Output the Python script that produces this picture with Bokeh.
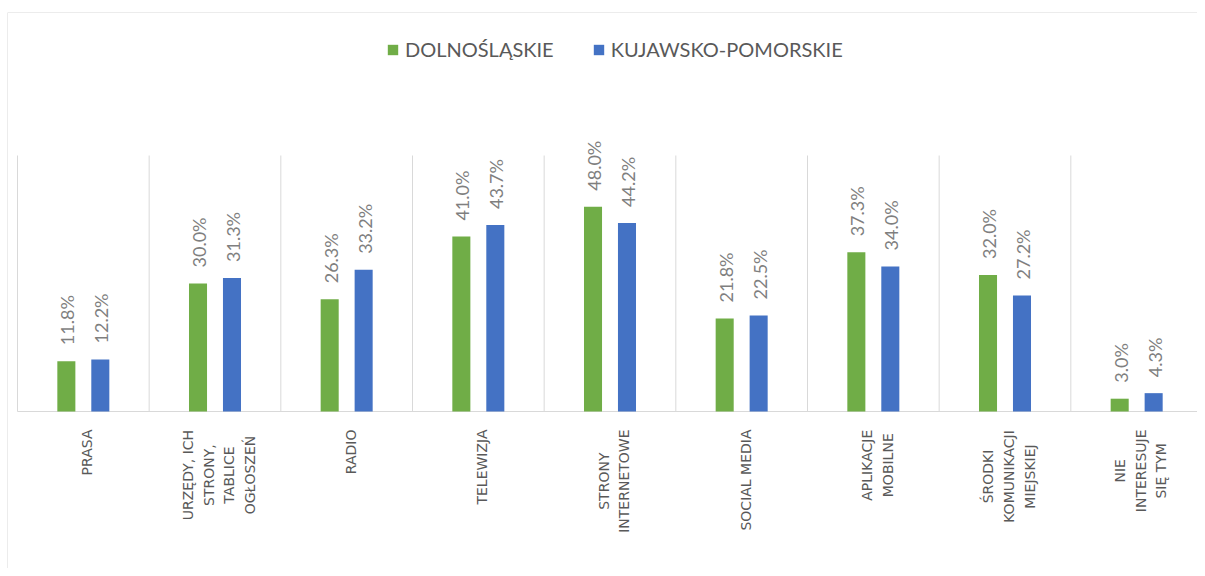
import math
from bokeh.plotting import figure
from bokeh.models import ColumnDataSource, Legend, LegendItem, Range1d, Span
from bokeh.transform import dodge
from bokeh.core.properties import value
from bokeh.embed import file_html
from bokeh.resources import INLINE

categories = [
    "PRASA",
    "URZĘDY, ICH\nSTRONY,\nTABLICE\nOGŁOSZEŃ",
    "RADIO",
    "TELEWIZJA",
    "STRONY\nINTERNETOWE",
    "SOCIAL MEDIA",
    "APLIKACJE\nMOBILNE",
    "ŚRODKI\nKOMUNIKACJI\nMIEJSKIEJ",
    "NIE\nINTERESUJE\nSIĘ TYM",
]
series_names = ["DOLNOŚLĄSKIE", "KUJAWSKO-POMORSKIE"]
dolnoslaskie = [11.8, 30.0, 26.3, 41.0, 48.0, 21.8, 37.3, 32.0, 3.0]
kujawsko = [12.2, 31.3, 33.2, 43.7, 44.2, 22.5, 34.0, 27.2, 4.3]
y_axis_max = 60

GREEN = "#70AD47"
BLUE = "#4472C4"
GRID = "#D9D9D9"
TXT = "#595959"
LBL = "#7F7F7F"

CAT_FONT = "DejaVu Sans"
CAT_SIZE = 14
# approximate DejaVu Sans advance widths (em) used to centre multi-line labels
_W = dict(A=.684, B=.686, C=.698, D=.770, E=.632, F=.575, G=.775, H=.752, I=.295,
          J=.295, K=.656, L=.557, M=.863, N=.748, O=.787, P=.603, R=.695, S=.635,
          T=.611, U=.732, W=.989, Y=.611, Z=.685)
_W.update({" ": .318, ",": .318, "Ę": .632, "Ł": .56, "Ń": .748, "Ś": .635, "Ą": .684})


def text_len(s):
    return sum(_W.get(ch, .65) for ch in s) * CAT_SIZE


n = len(categories)
xs = list(range(n))
src = ColumnDataSource(dict(
    x=xs,
    g=dolnoslaskie,
    b=kujawsko,
    gl=[f"{v:.1f}%" for v in dolnoslaskie],
    bl=[f"{v:.1f}%" for v in kujawsko],
))

W, H = 1197, 568
top_px = 12
left_px = 7
base_px = 411           # baseline position
ppu = 256 / y_axis_max  # pixels per percent
y_end = (base_px - top_px) / ppu
y_start = -(H - base_px) / ppu
cat_px = 1185 / n
first_sep_px = 17
x_start = -0.5 - (first_sep_px - left_px) / cat_px
x_end = x_start + (W - left_px) / cat_px

p = figure(width=W, height=H, output_backend="svg", toolbar_location=None,
           x_range=Range1d(x_start, x_end), y_range=Range1d(y_start, y_end),
           min_border_left=left_px, min_border_right=0, min_border_top=top_px,
           min_border_bottom=0)
p.outline_line_color = None
p.background_fill_color = "white"
p.border_fill_color = "white"
p.xgrid.visible = False
p.ygrid.visible = False
p.xaxis.visible = False
p.yaxis.visible = False

# chart-area border (left and top)
p.add_layout(Span(location=x_start, dimension="height", line_color=GRID, line_width=1))
p.add_layout(Span(location=y_end, dimension="width", line_color=GRID, line_width=1))

# category separators and baseline
sep = [i - 0.5 for i in range(n + 1)]
p.segment(x0=sep, x1=sep, y0=[0] * len(sep), y1=[y_axis_max] * len(sep),
          line_color=GRID, line_width=1)
p.segment(x0=[sep[0]], x1=[sep[-1]], y0=[0], y1=[0], line_color=GRID, line_width=1)

off = 0.129
bw = 0.137
rg = p.vbar(x=dodge("x", -off, range=p.x_range), top="g", width=bw, source=src,
            fill_color=GREEN, line_color=None)
rb = p.vbar(x=dodge("x", off, range=p.x_range), top="b", width=bw, source=src,
            fill_color=BLUE, line_color=None)

for col, lab, o in (("g", "gl", -off), ("b", "bl", off)):
    p.text(x=dodge("x", o, range=p.x_range), y=col, text=lab, source=src,
           angle=math.pi / 2, text_align="left", text_baseline="middle",
           x_offset=1, y_offset=-16, text_font=value("Lato"), text_font_size="18px",
           text_color=LBL)

# category labels (rotated, lines centred, block starting just below the baseline)
label_gap = 18
label_dx = 4
single = [(i, c) for i, c in enumerate(categories) if "\n" not in c]
multi = [(i, c) for i, c in enumerate(categories) if "\n" in c]
s_src = ColumnDataSource(dict(x=[i for i, _ in single], y=[0] * len(single),
                              t=[c for _, c in single]))
m_src = ColumnDataSource(dict(
    x=[i for i, _ in multi], y=[0] * len(multi), t=[c for _, c in multi],
    yo=[label_gap + max(text_len(l) for l in c.split("\n")) / 2 for _, c in multi]))
p.text(x="x", y="y", text="t", source=s_src, angle=math.pi / 2, text_align="right",
       text_baseline="middle", x_offset=label_dx, y_offset=label_gap,
       text_font=value(CAT_FONT), text_font_size=f"{CAT_SIZE}px", text_color=TXT)
p.text(x="x", y="y", text="t", source=m_src, angle=math.pi / 2, text_align="center",
       text_baseline="middle", x_offset=label_dx, y_offset="yo",
       text_font=value(CAT_FONT), text_font_size=f"{CAT_SIZE}px", text_color=TXT,
       text_line_height=1.3)

legend = Legend(items=[LegendItem(label=series_names[0], renderers=[rg]),
                       LegendItem(label=series_names[1], renderers=[rb])],
                location=(379, 507), orientation="horizontal")
legend.border_line_color = None
legend.background_fill_alpha = 0
legend.padding = 0
legend.margin = 0
legend.spacing = 38
legend.glyph_width = 13
legend.glyph_height = 13
legend.label_height = 20
legend.label_standoff = 6
legend.label_text_font = "Lato"
legend.label_text_font_size = "20px"
legend.label_text_color = TXT
p.add_layout(legend, "center")

open("out.html", "w").write(file_html(p, INLINE))
